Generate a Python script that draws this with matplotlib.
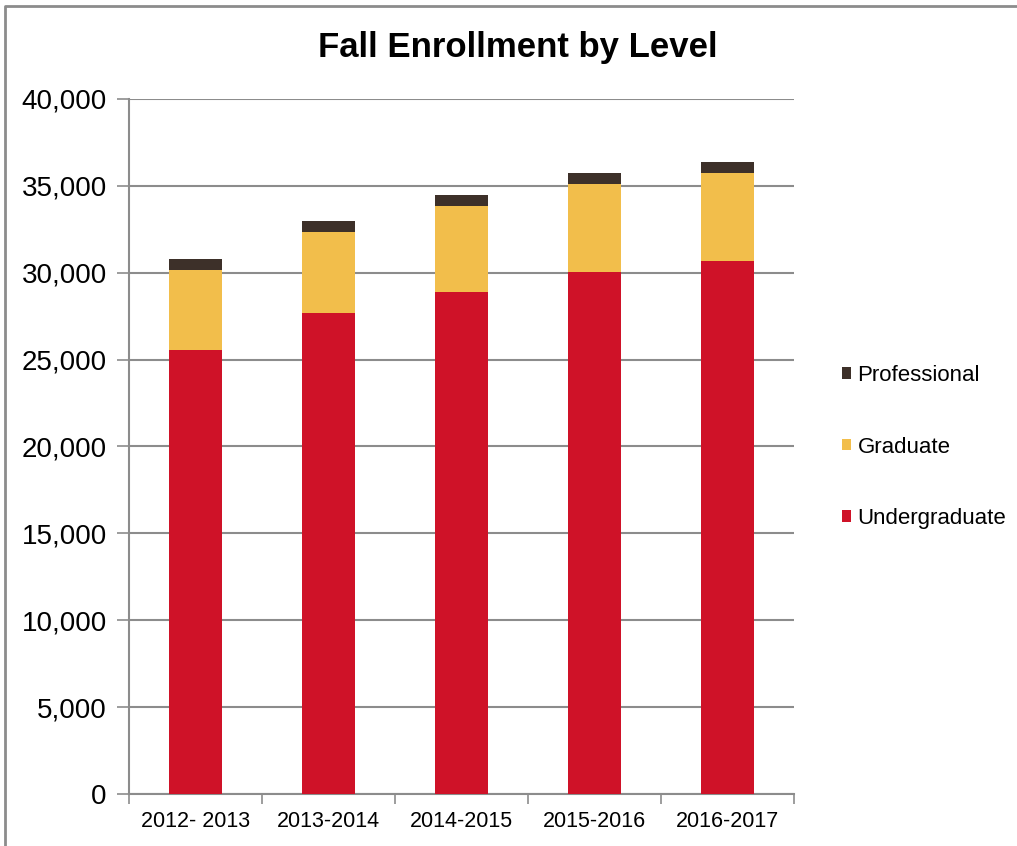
import matplotlib.pyplot as plt
import numpy as np
from matplotlib.lines import Line2D
from matplotlib.ticker import FuncFormatter

years = ['2012- 2013', '2013-2014', '2014-2015', '2015-2016', '2016-2017']
undergraduate = [25550, 27660, 28890, 30020, 30700]
graduate = [4610, 4700, 4950, 5090, 5060]
professional = [630, 600, 610, 610, 600]

font = ['Liberation Sans', 'DejaVu Sans']
plt.rcParams['font.family'] = font

fig = plt.figure(figsize=(10.17, 8.46), dpi=100)
ax = fig.add_axes([129/1017, 1 - 794/846, 665/1017, 695/846])

x = np.arange(len(years))
w = 0.4
ax.bar(x, undergraduate, w, color='#cf1228', label='Undergraduate', zorder=3)
ax.bar(x, graduate, w, bottom=undergraduate, color='#f2be4b', label='Graduate', zorder=3)
bottom2 = np.array(undergraduate) + np.array(graduate)
ax.bar(x, professional, w, bottom=bottom2, color='#3d3029', label='Professional', zorder=3)

ax.set_xlim(-0.5, 4.5)
ax.set_ylim(0, 40000)
ax.set_yticks(range(0, 40001, 5000))
ax.yaxis.set_major_formatter(FuncFormatter(lambda v, p: f'{int(v):,}'))
ax.yaxis.grid(True, color='#8c8c8c', linewidth=1.5, zorder=0)

ax.set_xticks(x)
ax.set_xticklabels(years, fontsize=15.5)
ax.set_xticks(np.arange(-0.5, 5, 1), minor=True)
ax.tick_params(axis='x', which='major', length=0, pad=12)
ax.tick_params(axis='x', which='minor', length=7, color='#8c8c8c', width=1.2)
ax.tick_params(axis='y', length=9, color='#8c8c8c', width=1.2, pad=7, labelsize=20)

for s in ['top', 'right']:
    ax.spines[s].set_visible(False)
ax.spines['left'].set_color('#8c8c8c')
ax.spines['bottom'].set_color('#8c8c8c')
ax.spines['left'].set_linewidth(1.5)
ax.spines['bottom'].set_linewidth(1.5)

fig.text(518/1017, 1 - 48/846, 'Fall Enrollment by Level', ha='center', va='center',
         fontsize=25, fontweight='bold')

handles, labels = ax.get_legend_handles_labels()
leg = fig.legend(handles[::-1], labels[::-1], loc='center left',
                 bbox_to_anchor=(842/1017, 1 - 447/846), frameon=False,
                 borderpad=0, borderaxespad=0,
                 handlelength=0.42, handleheight=0.42,
                 handletextpad=0.28, labelspacing=2.27, prop={'size': 16})

fig.lines.append(Line2D([5/1017, 5/1017, 1], [0, 1 - 6/846, 1 - 6/846],
                        transform=fig.transFigure, color='#8c8c8c', linewidth=2))

fig.savefig('out.png', dpi=100)
